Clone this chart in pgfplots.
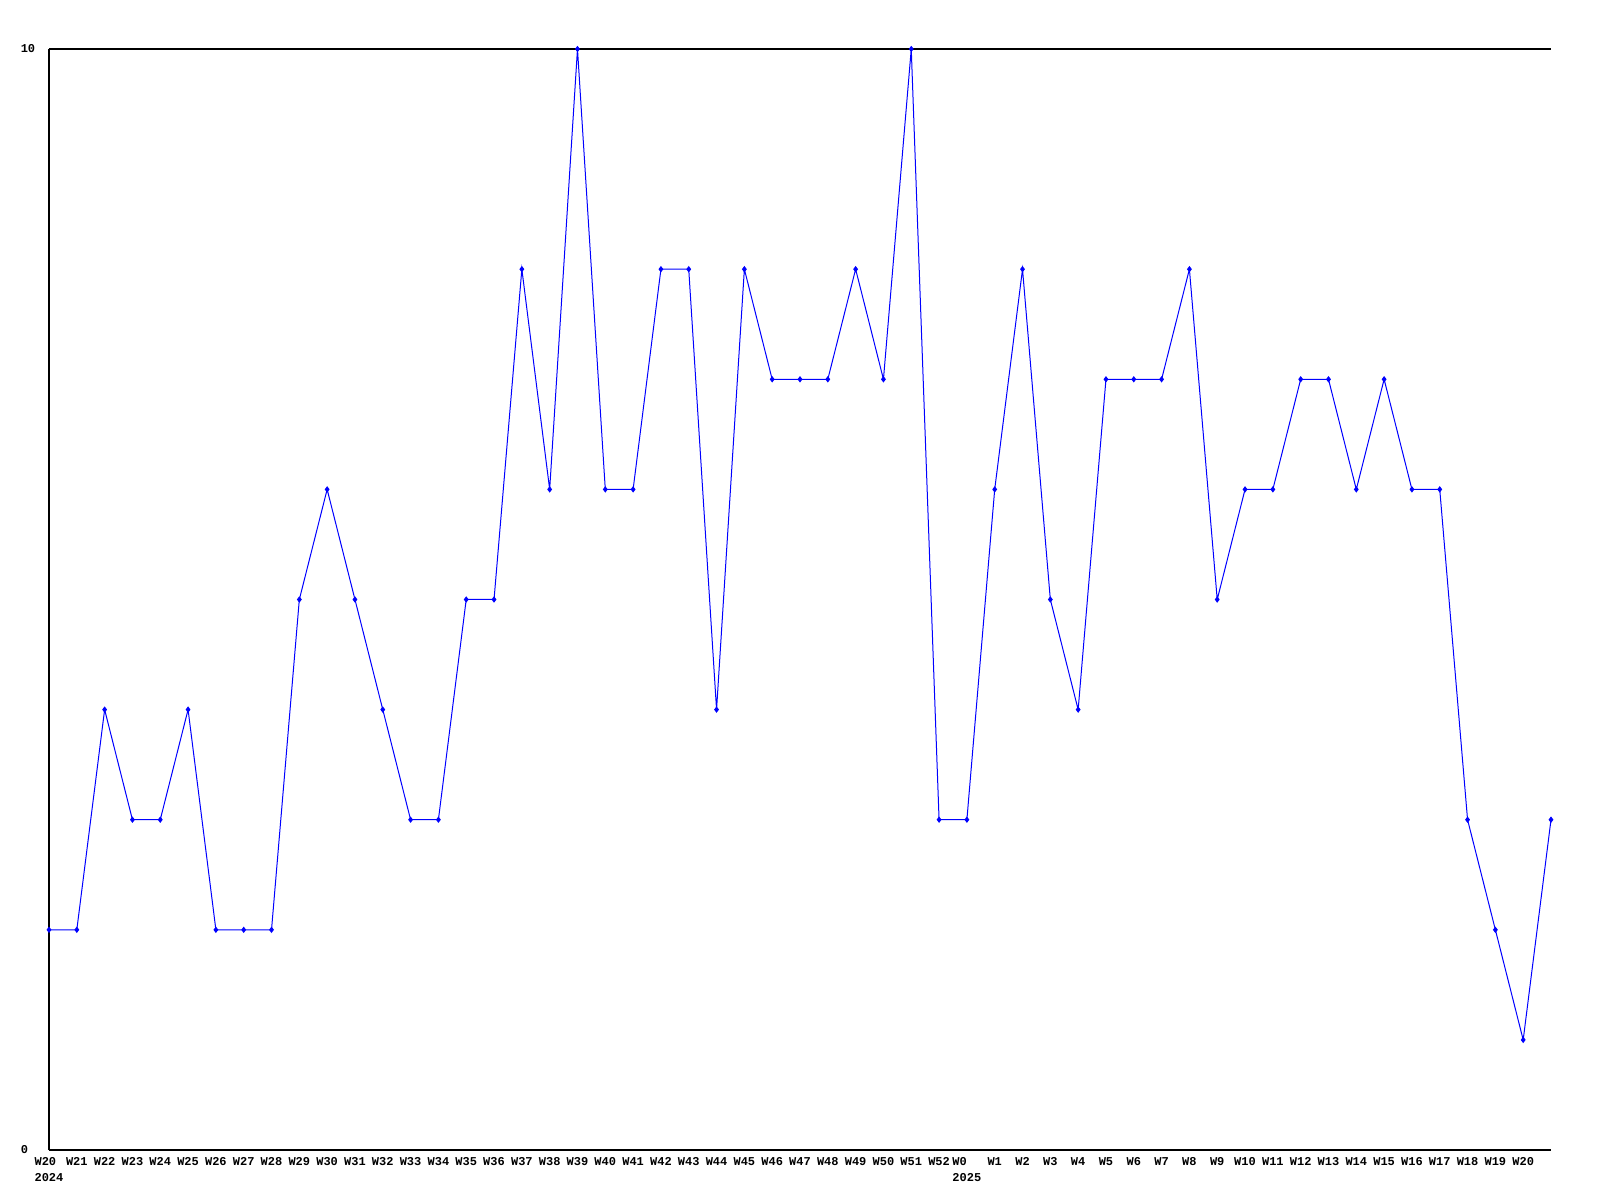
\documentclass[border=0pt]{standalone}
\usepackage{fontspec}
\setmainfont{Liberation Mono}
\usepackage{pgfplots}
\pgfplotsset{compat=1.18}
\begin{document}
\begin{tikzpicture}[x=1pt,y=1pt]
\useasboundingbox (0,0) rectangle (800,600);
\begin{axis}[
  at={(24.5pt,25pt)}, anchor=south west,
  scale only axis, width=751pt, height=550.5pt,
  xmin=0, xmax=54, ymin=0, ymax=10,
  axis x line*=bottom, axis y line*=left,
  axis line style={black, line width=0.6pt},
  xtick={0,...,53},
  xticklabels={{W20\\2024},W21,W22,W23,W24,W25,W26,W27,W28,W29,W30,W31,W32,W33,W34,W35,W36,W37,W38,W39,W40,W41,W42,W43,W44,W45,W46,W47,W48,W49,W50,W51,W52,{W0\\2025},W1,W2,W3,W4,W5,W6,W7,W8,W9,W10,W11,W12,W13,W14,W15,W16,W17,W18,W19,W20},
  ytick={0,10},
  major tick length=0pt,
  ymajorgrids, grid style={black, line width=0.6pt},
  /pgf/number format/assume math mode=true,
  tick label style={font=\fontsize{6}{7.7}\selectfont\bfseries},
  xticklabel style={align=left, inner sep=0pt, yshift=-3.6pt},
  yticklabel style={anchor=west, inner sep=0pt, xshift=-14.3pt},
  clip=false,
]
\addplot[blue, line width=0.5pt, mark=diamond*, mark size=1.2pt] coordinates {
(0,2)(1,2)(2,4)(3,3)(4,3)(5,4)(6,2)(7,2)(8,2)(9,5)(10,6)(11,5)(12,4)(13,3)(14,3)(15,5)(16,5)(17,8)(18,6)(19,10)(20,6)(21,6)(22,8)(23,8)(24,4)(25,8)(26,7)(27,7)(28,7)(29,8)(30,7)(31,10)(32,3)(33,3)(34,6)(35,8)(36,5)(37,4)(38,7)(39,7)(40,7)(41,8)(42,5)(43,6)(44,6)(45,7)(46,7)(47,6)(48,7)(49,6)(50,6)(51,3)(52,2)(53,1)(54,3)
};
\end{axis}
\end{tikzpicture}
\end{document}
